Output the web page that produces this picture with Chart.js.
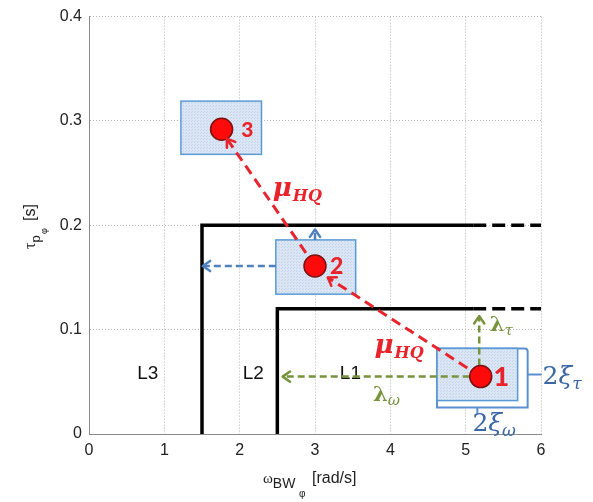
<!DOCTYPE html>
<html>
<head>
<meta charset="utf-8">
<script src="https://cdn.jsdelivr.net/npm/chart.js@4.4.1/dist/chart.umd.min.js"></script>
<style>
  html, body { margin: 0; padding: 0; background: #fff; }
  #wrap { width: 593px; height: 502px; }
</style>
</head>
<body>
<div id="wrap"><canvas id="chart" width="593" height="502"></canvas></div>
<script>
// axis ticks
const xTicks = [0, 1, 2, 3, 4, 5, 6];
const yTicks = [0, 0.1, 0.2, 0.3, 0.4];

// operating points 1, 2, 3
const pointNames = ['1', '2', '3'];
const pointX = [5.2, 3.0, 1.76];
const pointY = [0.055, 0.161, 0.292];

// uncertainty boxes round each point
const boxXMin = [4.62, 2.48, 1.22];
const boxXMax = [5.69, 3.54, 2.29];
const boxYMin = [0.032, 0.134, 0.268];
const boxYMax = [0.082, 0.186, 0.319];

// level boundaries: solid part, then dashed extension to the edge
const levelL2X = [1.5, 1.5, 5.1];
const levelL2Y = [0, 0.2, 0.2];
const levelL1X = [2.5, 2.5, 5.1];
const levelL1Y = [0, 0.12, 0.12];
const levelExtX = [5.1, 6];

// region names
const regionNames = ['L3', 'L2', 'L1'];
const regionX = [0.78, 2.18, 3.47];
const regionY = [0.058, 0.058, 0.058];

// arrows (from -> to)
const hqFromX = [5.2, 3.0], hqFromY = [0.055, 0.161];
const hqToX = [3.17, 1.83], hqToY = [0.150, 0.283];
const blueFromX = [2.48, 3.0], blueFromY = [0.161, 0.186];
const blueToX = [1.51, 3.0], blueToY = [0.161, 0.196];
const greenFromX = [5.2, 5.18], greenFromY = [0.055, 0.055];
const greenToX = [2.57, 5.18], greenToY = [0.055, 0.113];

// where the math labels sit
const muX = [2.44, 3.79], muY = [0.228, 0.078];
const lamTauXY = [5.32, 0.099], lamOmXY = [3.77, 0.032];
const xiTauXY = [6.02, 0.048], xiOmXY = [5.09, 0.003];
const numX = [5.37, 3.2, 2.02], numY = [0.046, 0.153, 0.285];

const RED = '#e8232b';
const BLUE = '#4f81bd';
const GREEN = '#77933c';
const TXTBLUE = '#3b67a6';

function seg(x0, y0, x1, y1) {
    return [{ x: x0, y: y0 }, { x: x1, y: y1 }];
}

function lineSet(data, color, width, dash) {
    return {
        type: 'line',
        data: data,
        borderColor: color,
        borderWidth: width,
        borderDash: dash,
        pointRadius: 0,
        showLine: true,
        fill: false,
        tension: 0
    };
}

const datasets = [];
datasets.push({
    type: 'scatter',
    data: pointX.map((x, i) => ({ x: x, y: pointY[i] })),
    backgroundColor: '#ff0a0a',
    borderColor: '#7a1212',
    borderWidth: 1.5,
    pointRadius: 11,
    pointHoverRadius: 11
});
hqFromX.forEach((x, i) => datasets.push(lineSet(seg(x, hqFromY[i], hqToX[i], hqToY[i]), RED, 3, [10, 6])));
blueFromX.forEach((x, i) => datasets.push(lineSet(seg(x, blueFromY[i], blueToX[i], blueToY[i]), BLUE, 2.5, [7, 4])));
greenFromX.forEach((x, i) => datasets.push(lineSet(seg(x, greenFromY[i], greenToX[i], greenToY[i]), GREEN, 2.5, [7, 4])));
datasets.push(lineSet(levelL2X.map((x, i) => ({ x: x, y: levelL2Y[i] })), '#000', 3.5, []));
datasets.push(lineSet(levelL1X.map((x, i) => ({ x: x, y: levelL1Y[i] })), '#000', 3.5, []));
datasets.push(lineSet(seg(levelExtX[0], 0.2, levelExtX[1], 0.2), '#000', 3.5, [13, 6]));
datasets.push(lineSet(seg(levelExtX[0], 0.12, levelExtX[1], 0.12), '#000', 3.5, [13, 6]));

function makePattern(ctx) {
    const c = document.createElement('canvas');
    c.width = 3; c.height = 3;
    const g = c.getContext('2d');
    g.fillStyle = '#dbe6f4';
    g.fillRect(0, 0, 3, 3);
    g.fillStyle = '#c4d5eb';
    g.fillRect(0, 0, 1, 1);
    g.fillRect(2, 1, 1, 1);
    return ctx.createPattern(c, 'repeat');
}

function mathText(ctx, x, y, parts, color) {
    ctx.fillStyle = color;
    ctx.textAlign = 'left';
    ctx.textBaseline = 'alphabetic';
    let cx = x;
    parts.forEach(p => {
        ctx.font = p[1];
        ctx.fillText(p[0], cx, y + p[2]);
        cx += ctx.measureText(p[0]).width + (p[3] || 0);
    });
}

function arrowHead(ctx, fx, fy, tx, ty, color) {
    const a = Math.atan2(ty - fy, tx - fx);
    const len = 9, spread = 0.6;
    ctx.save();
    ctx.strokeStyle = color;
    ctx.lineWidth = 2.5;
    ctx.setLineDash([]);
    ctx.lineCap = 'round';
    ctx.lineJoin = 'round';
    ctx.beginPath();
    ctx.moveTo(tx - len * Math.cos(a - spread), ty - len * Math.sin(a - spread));
    ctx.lineTo(tx, ty);
    ctx.lineTo(tx - len * Math.cos(a + spread), ty - len * Math.sin(a + spread));
    ctx.stroke();
    ctx.restore();
}

const boxesPlugin = {
    id: 'boxes',
    beforeDatasetsDraw(chart) {
        const { ctx, scales: { x, y } } = chart;
        const pat = makePattern(ctx);
        ctx.save();
        boxXMin.forEach((x0, i) => {
            const l = x.getPixelForValue(x0), r = x.getPixelForValue(boxXMax[i]);
            const t = y.getPixelForValue(boxYMax[i]), b = y.getPixelForValue(boxYMin[i]);
            if (i === 0) {
                // brackets for 2ξτ and 2ξω
                ctx.strokeStyle = '#5b8fcf';
                ctx.lineWidth = 2;
                ctx.fillStyle = '#fff';
                ctx.beginPath();
                ctx.moveTo(l, t);
                ctx.lineTo(r + 7, t);
                ctx.quadraticCurveTo(r + 10, t, r + 10, t + 3);
                ctx.lineTo(r + 10, b + 7);
                ctx.lineTo(l, b + 7);
                ctx.closePath();
                ctx.fill();
                ctx.stroke();
                const my = (t + b) / 2;
                ctx.beginPath();
                ctx.moveTo(r + 10, my);
                ctx.lineTo(r + 24, my);
                ctx.stroke();
                const mx = (l + r) / 2;
                ctx.beginPath();
                ctx.moveTo(mx, b + 7);
                ctx.lineTo(mx, b + 13);
                ctx.stroke();
            }
            ctx.fillStyle = pat;
            ctx.fillRect(l, t, r - l, b - t);
            ctx.strokeStyle = '#5b9bd5';
            ctx.lineWidth = 1.5;
            ctx.strokeRect(l, t, r - l, b - t);
        });

        // region names sit under the arrows
        ctx.fillStyle = '#111';
        ctx.font = '19px "Liberation Sans", Arial, sans-serif';
        ctx.textAlign = 'center';
        ctx.textBaseline = 'middle';
        regionNames.forEach((s, i) => {
            ctx.fillText(s, x.getPixelForValue(regionX[i]), y.getPixelForValue(regionY[i]));
        });
        ctx.restore();
    },
    afterDatasetsDraw(chart) {
        const { ctx, scales: { x, y } } = chart;
        const P = (vx, vy) => [x.getPixelForValue(vx), y.getPixelForValue(vy)];
        ctx.save();

        hqFromX.forEach((fx, i) => {
            const f = P(fx, hqFromY[i]), t = P(hqToX[i], hqToY[i]);
            arrowHead(ctx, f[0], f[1], t[0], t[1], RED);
        });
        blueFromX.forEach((fx, i) => {
            const f = P(fx, blueFromY[i]), t = P(blueToX[i], blueToY[i]);
            arrowHead(ctx, f[0], f[1], t[0], t[1], BLUE);
        });
        greenFromX.forEach((fx, i) => {
            const f = P(fx, greenFromY[i]), t = P(greenToX[i], greenToY[i]);
            arrowHead(ctx, f[0], f[1], t[0], t[1], GREEN);
        });

        // point numbers
        const numFont = ['900 27px Lato, sans-serif', '900 23px Lato, sans-serif', '900 21px Lato, sans-serif'];
        pointNames.forEach((s, i) => {
            const p = P(numX[i], numY[i]);
            mathText(ctx, p[0], p[1], [[s, numFont[i], 0]], RED);
        });

        // mu_HQ
        muX.forEach((mx, i) => {
            const p = P(mx, muY[i]);
            mathText(ctx, p[0], p[1], [
                ['\u03bc', 'bold italic 26px "DejaVu Serif", serif', 0, 1],
                ['HQ', 'bold italic 16px "DejaVu Serif", serif', 5]
            ], RED);
        });

        // lambdas
        let p = P(lamTauXY[0], lamTauXY[1]);
        mathText(ctx, p[0], p[1], [
            ['\u03bb', 'bold 21px "DejaVu Serif", serif', 0],
            ['\u03c4', 'italic 15px "DejaVu Serif", serif', 4]
        ], GREEN);
        p = P(lamOmXY[0], lamOmXY[1]);
        mathText(ctx, p[0], p[1], [
            ['\u03bb', 'bold 21px "DejaVu Serif", serif', 0],
            ['\u03c9', 'italic 15px "DejaVu Serif", serif', 4]
        ], GREEN);

        // 2 xi
        p = P(xiTauXY[0], xiTauXY[1]);
        mathText(ctx, p[0], p[1], [
            ['2', '25px "DejaVu Serif", serif', 0],
            ['\u03be', 'italic 25px "DejaVu Serif", serif', 0],
            ['\u03c4', 'italic 17px "DejaVu Serif", serif', 5]
        ], TXTBLUE);
        p = P(xiOmXY[0], xiOmXY[1]);
        mathText(ctx, p[0], p[1], [
            ['2', '25px "DejaVu Serif", serif', 0],
            ['\u03be', 'italic 25px "DejaVu Serif", serif', 0],
            ['\u03c9', 'italic 17px "DejaVu Serif", serif', 5]
        ], TXTBLUE);
        ctx.restore();
    },
    afterDraw(chart) {
        const { ctx } = chart;
        ctx.save();
        const font = '"Liberation Sans", Arial, sans-serif';
        // x axis title: omega_BW_phi [rad/s]
        mathText(ctx, 263, 483, [
            ['\u03c9', '15px "Liberation Serif", serif', 0],
            ['BW', '14px ' + font, 5, 0]
        ], '#222');
        ctx.font = '10px ' + font;
        ctx.fillText('\u03c6', 299, 497);
        ctx.font = '16px ' + font;
        ctx.fillText('[rad/s]', 312, 483);

        // y axis title: tau_p_phi [s]
        ctx.translate(35, 249);
        ctx.rotate(-Math.PI / 2);
        mathText(ctx, 0, 0, [
            ['\u03c4', '16px "Liberation Serif", serif', 0],
            ['p', '13px ' + font, 5]
        ], '#222');
        ctx.font = '9px ' + font;
        ctx.fillText('\u03c6', 15, 12);
        ctx.font = '16px ' + font;
        ctx.fillText('[s]', 28, 0);
        ctx.restore();
    }
};

const gridStyle = { color: '#b5b5b5', lineWidth: 1, drawTicks: false };
const borderStyle = { display: true, color: '#8a8a8a', width: 1, dash: [1, 2] };
const tickFont = { family: '"Liberation Sans", Arial, sans-serif', size: 16 };

new Chart(document.getElementById('chart'), {
    type: 'scatter',
    data: { datasets: datasets },
    options: {
        responsive: false,
        animation: false,
        events: [],
        layout: { padding: { top: 14, right: 52, bottom: 0, left: 0 } },
        plugins: { legend: { display: false }, tooltip: { enabled: false } },
        scales: {
            x: {
                type: 'linear',
                min: 0,
                max: 6,
                afterBuildTicks: s => { s.ticks = xTicks.map(v => ({ value: v })); },
                afterFit: s => { s.height = 68; },
                ticks: { font: tickFont, color: '#222', padding: 7 },
                grid: gridStyle,
                border: borderStyle
            },
            y: {
                type: 'linear',
                min: 0,
                max: 0.4,
                afterBuildTicks: s => { s.ticks = yTicks.map(v => ({ value: v })); },
                afterFit: s => { s.width = 89; },
                ticks: { font: tickFont, color: '#222', padding: 7 },
                grid: gridStyle,
                border: borderStyle
            }
        }
    },
    plugins: [boxesPlugin]
});
</script>
</body>
</html>
